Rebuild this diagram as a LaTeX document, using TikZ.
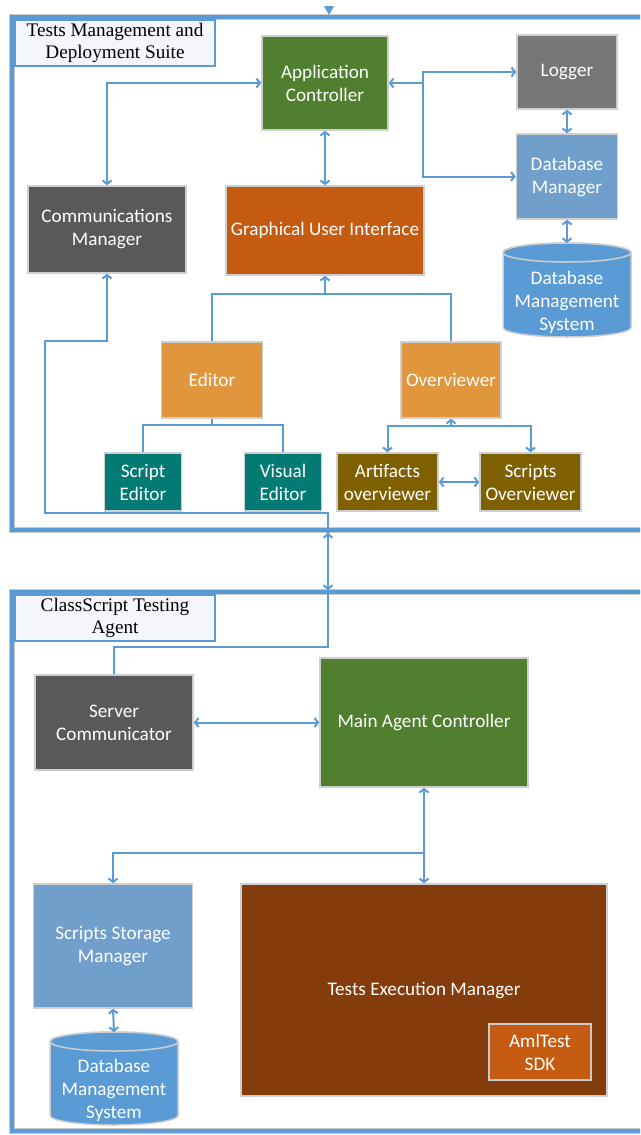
\documentclass[tikz,border=0pt]{standalone}
\usepackage{fontspec}
\setmainfont{Liberation Serif}
\newfontfamily\labfont{Carlito}
\usetikzlibrary{arrows.meta,calc}
\definecolor{conncol}{HTML}{5B9BD5}
\definecolor{framecol}{HTML}{5B9BD5}
\definecolor{shadowcol}{HTML}{C9C9C9}
\definecolor{edgecol}{HTML}{CFCFCF}
\definecolor{ctrlgreen}{HTML}{4F7F2F}
\definecolor{loggray}{HTML}{767676}
\definecolor{darkgray}{HTML}{595959}
\definecolor{mgrblue}{HTML}{709FCC}
\definecolor{dbblue}{HTML}{5B9BD5}
\definecolor{guiorange}{HTML}{C55A11}
\definecolor{lightorange}{HTML}{E0963C}
\definecolor{tealcol}{HTML}{037B74}
\definecolor{olivecol}{HTML}{7F6000}
\definecolor{browncol}{HTML}{843C0C}
\definecolor{titlefill}{HTML}{F4F6FB}
\newcommand\dbcyl[5]{%
  \draw[cylstyle] (#1-#4,#2+#5) -- (#1-#4,#3-#5)
    arc[start angle=180,end angle=0,x radius=#4,y radius=#5]
    -- (#1+#4,#2+#5)
    arc[start angle=0,end angle=-180,x radius=#4,y radius=#5] -- cycle;
  \draw[cylstyle] (#1,#2+#5) ellipse[x radius=#4,y radius=#5];}
\begin{document}
\begin{tikzpicture}[x=1pt,y=-1pt,
  box/.style={draw=edgecol,line width=1.5pt,text=white,align=center,inner sep=2pt,
    font=\labfont\fontsize{19.2}{23}\selectfont},
  cyltext/.style={text=white,align=center,inner sep=0pt,
    font=\labfont\fontsize{19.2}{23}\selectfont},
  cylstyle/.style={draw=edgecol,line width=1.5pt,fill=dbblue},
  titlebox/.style={draw=framecol,line width=2pt,fill=titlefill,align=center,inner sep=0pt,
    font=\fontsize{19.2}{22}\selectfont},
  frameshadow/.style={draw=shadowcol,line width=6.5pt},
  frameline/.style={draw=framecol,line width=4pt},
  conn/.style={draw=conncol,line width=2pt,>={Straight Barb[length=3.5pt,width=9pt]}}]
\useasboundingbox (0,0) rectangle (640,1135);
\fill[white] (0,0) rectangle (640,1135);
\clip (0,0) rectangle (640,1135);

% frames
\draw[frameshadow] (12,17) rectangle (680,530);
\draw[frameline] (12,17) rectangle (680,530);
\draw[frameshadow] (12,592) rectangle (680,1131);
\draw[frameline] (12,592) rectangle (680,1131);
\fill[conncol] (324,6) -- (334,6) -- (329,15) -- cycle;

\node[titlebox,minimum width=200,minimum height=46] (t1) at (115,43) {Tests Management and\\Deployment Suite};
\node[titlebox,minimum width=200,minimum height=46] (t2) at (115,618) {ClassScript Testing\\Agent};

% top suite nodes
\node[box,fill=ctrlgreen,minimum width=126,minimum height=94] (ac) at (325,83) {Application\\Controller};
\node[box,fill=loggray,minimum width=100,minimum height=74] (logger) at (567,72) {Logger};
\node[box,fill=mgrblue,minimum width=101,minimum height=85] (dbm) at (567,176.5) {Database\\Manager};
\dbcyl{567}{243}{337}{64}{9.5}
\coordinate (dbtop1) at (567,243);
\node[cyltext] (dbms1) at (567,302) {Database\\Management\\System};
\node[box,fill=darkgray,minimum width=158,minimum height=87] (cm) at (107,229.5) {Communications\\Manager};
\node[box,fill=guiorange,minimum width=198,minimum height=89] (gui) at (325,230.5) {Graphical User Interface};
\node[box,fill=lightorange,minimum width=101,minimum height=76] (editor) at (212,380) {Editor};
\node[box,fill=lightorange,minimum width=100,minimum height=76] (overv) at (451,380) {Overviewer};
\node[box,fill=tealcol,minimum width=77,minimum height=58] (sced) at (143,482) {Script\\Editor};
\node[box,fill=tealcol,minimum width=77,minimum height=58] (vised) at (283,482) {Visual\\Editor};
\node[box,fill=olivecol,minimum width=101,minimum height=58] (artov) at (387.5,482) {Artifacts\\overviewer};
\node[box,fill=olivecol,minimum width=101,minimum height=58] (scrov) at (530.5,482) {Scripts\\Overviewer};

% agent nodes
\node[box,fill=darkgray,minimum width=158,minimum height=95] (sc) at (114,722.5) {Server\\Communicator};
\node[box,fill=ctrlgreen,minimum width=208,minimum height=129] (mac) at (424,722.5) {Main Agent Controller};
\node[box,fill=mgrblue,minimum width=159,minimum height=124] (ssm) at (113,946) {Scripts Storage\\Manager};
\dbcyl{114}{1032}{1125}{64}{9.5}
\coordinate (dbtop2) at (114,1032);
\node[cyltext] (dbms2) at (114,1090) {Database\\Management\\System};
\node[box,fill=browncol,minimum width=366,minimum height=212] (tem) at (424,990) {Tests Execution Manager};
\node[box,fill=guiorange,draw=shadowcol,minimum width=102,minimum height=56] (sdk) at (540,1052) {AmlTest\\SDK};

% connectors top
\draw[conn,<->] (cm.north) |- (ac.west);
\draw[conn,<->] (ac.south) -- (gui.north);
\coordinate (j1) at (423,83);
\draw[conn,->] (j1) -- (ac.east);
\draw[conn,<->] (logger.west) -- (logger.west -| j1) -- (dbm.west -| j1) -- (dbm.west);
\draw[conn,<->] (logger.south) -- (dbm.north);
\draw[conn,<->] (dbm.south) -- (dbtop1);
\coordinate (g1) at (325,294);
\draw[conn] (editor.north) |- (g1) -| (overv.north);
\draw[conn,->] (g1) -- (gui.south);
\coordinate (e1) at (212,425);
\draw[conn] (editor.south) -- (e1);
\draw[conn] (sced.north) |- (e1) -| (vised.north);
\coordinate (o1) at (451,426);
\draw[conn,->] (o1) -- (overv.south);
\draw[conn,<->] (artov.north) |- (o1) -| (scrov.north);
\draw[conn,<->] (artov.east) -- (scrov.west);

% long link
\coordinate (l1) at (107,341);
\coordinate (l2) at (45,341);
\coordinate (l3) at (45,513);
\coordinate (l4) at (328,513);
\coordinate (l5) at (328,647);
\coordinate (l6) at (114,647);
\draw[conn,<-] (cm.south) -- (l1) -- (l2) -- (l3) -- (l4) -- (l5) -- (l6) -- (sc.north);
\coordinate (f1) at (328,533);
\coordinate (f2) at (328,590);
\draw[conn,<->] (f1) -- (f2);

% agent connectors
\draw[conn,<->] (sc.east) -- (mac.west);
\coordinate (m1) at (424,853);
\draw[conn,->] (m1) -- (mac.south);
\draw[conn,<->] (ssm.north) |- (m1) -- (tem.north);
\draw[conn,<->] (ssm.south) -- (dbtop2);
\end{tikzpicture}
\end{document}
